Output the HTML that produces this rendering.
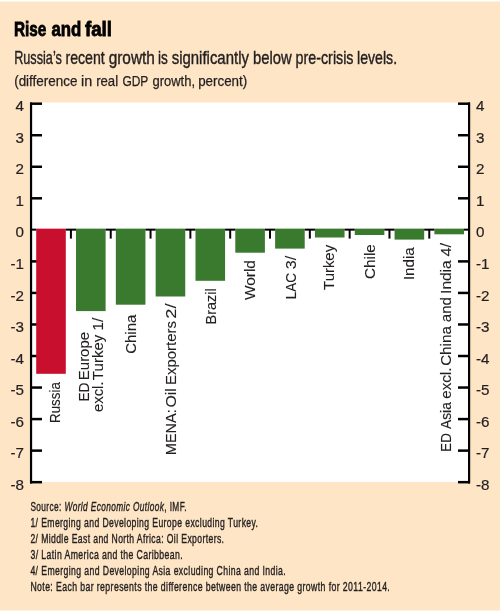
<!DOCTYPE html>
<html><head><meta charset="utf-8"><style>
html,body{margin:0;padding:0;width:500px;height:611px;overflow:hidden;background:#fde5c5;}
svg{display:block;will-change:transform;}
text{font-family:"Liberation Sans",sans-serif;}
</style></head><body>
<svg width="500" height="611" viewBox="0 0 500 611">
<rect x="0" y="0" width="500" height="611" fill="#fde5c5"/>
<rect x="0" y="0" width="500" height="1.5" fill="#fff"/>
<rect x="0" y="610" width="500" height="1" fill="#fff" fill-opacity="0.5"/>
<rect x="30" y="102.5" width="440" height="379.5" fill="#fff"/>
<g stroke="#000" stroke-width="2" fill="none">
<line x1="31.05" y1="102.44" x2="31.05" y2="483.42" stroke-width="2.2"/>
<line x1="469.1" y1="102.44" x2="469.1" y2="483.42" stroke-width="2.2"/>
<line x1="30" y1="482.17" x2="42" y2="482.17" stroke-width="2.5"/>
<line x1="458" y1="482.17" x2="470" y2="482.17" stroke-width="2.5"/>
<line x1="30" y1="450.63" x2="42" y2="450.63" stroke-width="2.5"/>
<line x1="458" y1="450.63" x2="470" y2="450.63" stroke-width="2.5"/>
<line x1="30" y1="419.09" x2="42" y2="419.09" stroke-width="2.5"/>
<line x1="458" y1="419.09" x2="470" y2="419.09" stroke-width="2.5"/>
<line x1="30" y1="387.55" x2="42" y2="387.55" stroke-width="2.5"/>
<line x1="458" y1="387.55" x2="470" y2="387.55" stroke-width="2.5"/>
<line x1="30" y1="356.01" x2="42" y2="356.01" stroke-width="2.5"/>
<line x1="458" y1="356.01" x2="470" y2="356.01" stroke-width="2.5"/>
<line x1="30" y1="324.47" x2="42" y2="324.47" stroke-width="2.5"/>
<line x1="458" y1="324.47" x2="470" y2="324.47" stroke-width="2.5"/>
<line x1="30" y1="292.93" x2="42" y2="292.93" stroke-width="2.5"/>
<line x1="458" y1="292.93" x2="470" y2="292.93" stroke-width="2.5"/>
<line x1="30" y1="261.39" x2="42" y2="261.39" stroke-width="2.5"/>
<line x1="458" y1="261.39" x2="470" y2="261.39" stroke-width="2.5"/>
<line x1="30" y1="198.31" x2="42" y2="198.31" stroke-width="2.5"/>
<line x1="458" y1="198.31" x2="470" y2="198.31" stroke-width="2.5"/>
<line x1="30" y1="166.77" x2="42" y2="166.77" stroke-width="2.5"/>
<line x1="458" y1="166.77" x2="470" y2="166.77" stroke-width="2.5"/>
<line x1="30" y1="135.23" x2="42" y2="135.23" stroke-width="2.5"/>
<line x1="458" y1="135.23" x2="470" y2="135.23" stroke-width="2.5"/>
<line x1="30" y1="103.69" x2="42" y2="103.69" stroke-width="2.5"/>
<line x1="458" y1="103.69" x2="470" y2="103.69" stroke-width="2.5"/>
</g>
<rect x="36.20" y="228.65" width="29.6" height="145.15" fill="#c8102e"/>
<rect x="76.02" y="228.65" width="29.6" height="82.45" fill="#3a7a2e"/>
<rect x="115.84" y="228.65" width="29.6" height="76.05" fill="#3a7a2e"/>
<rect x="155.66" y="228.65" width="29.6" height="67.85" fill="#3a7a2e"/>
<rect x="195.48" y="228.65" width="29.6" height="52.15" fill="#3a7a2e"/>
<rect x="235.30" y="228.65" width="29.6" height="24.05" fill="#3a7a2e"/>
<rect x="275.12" y="228.65" width="29.6" height="19.95" fill="#3a7a2e"/>
<rect x="314.94" y="228.65" width="29.6" height="8.85" fill="#3a7a2e"/>
<rect x="354.76" y="228.65" width="29.6" height="6.35" fill="#3a7a2e"/>
<rect x="394.58" y="228.65" width="29.6" height="10.95" fill="#3a7a2e"/>
<rect x="434.40" y="228.65" width="29.6" height="5.65" fill="#3a7a2e"/>
<g stroke="#000" stroke-width="2" fill="none">
<line x1="31.00" y1="229.65" x2="36.20" y2="229.65"/>
<line x1="65.80" y1="229.65" x2="76.02" y2="229.65"/>
<line x1="105.62" y1="229.65" x2="115.84" y2="229.65"/>
<line x1="145.44" y1="229.65" x2="155.66" y2="229.65"/>
<line x1="185.26" y1="229.65" x2="195.48" y2="229.65"/>
<line x1="225.08" y1="229.65" x2="235.30" y2="229.65"/>
<line x1="264.90" y1="229.65" x2="275.12" y2="229.65"/>
<line x1="304.72" y1="229.65" x2="314.94" y2="229.65"/>
<line x1="344.54" y1="229.65" x2="354.76" y2="229.65"/>
<line x1="384.36" y1="229.65" x2="394.58" y2="229.65"/>
<line x1="424.18" y1="229.65" x2="434.40" y2="229.65"/>
<line x1="464.00" y1="229.65" x2="469" y2="229.65"/>
<line x1="70.91" y1="229.65" x2="70.91" y2="238.6"/>
<line x1="110.73" y1="229.65" x2="110.73" y2="238.6"/>
<line x1="150.55" y1="229.65" x2="150.55" y2="238.6"/>
<line x1="190.37" y1="229.65" x2="190.37" y2="238.6"/>
<line x1="230.19" y1="229.65" x2="230.19" y2="238.6"/>
<line x1="270.01" y1="229.65" x2="270.01" y2="238.6"/>
<line x1="309.83" y1="229.65" x2="309.83" y2="238.6"/>
<line x1="349.65" y1="229.65" x2="349.65" y2="238.6"/>
<line x1="389.47" y1="229.65" x2="389.47" y2="238.6"/>
<line x1="429.29" y1="229.65" x2="429.29" y2="238.6"/>
</g>
<g font-family="Liberation Sans" font-size="15.2" fill="#231f20" stroke="#231f20" stroke-width="0.2">
<text x="24" y="489.77" text-anchor="end">-8</text>
<text x="476" y="489.77">-8</text>
<text x="24" y="458.23" text-anchor="end">-7</text>
<text x="476" y="458.23">-7</text>
<text x="24" y="426.69" text-anchor="end">-6</text>
<text x="476" y="426.69">-6</text>
<text x="24" y="395.15" text-anchor="end">-5</text>
<text x="476" y="395.15">-5</text>
<text x="24" y="363.61" text-anchor="end">-4</text>
<text x="476" y="363.61">-4</text>
<text x="24" y="332.07" text-anchor="end">-3</text>
<text x="476" y="332.07">-3</text>
<text x="24" y="300.53" text-anchor="end">-2</text>
<text x="476" y="300.53">-2</text>
<text x="24" y="268.99" text-anchor="end">-1</text>
<text x="476" y="268.99">-1</text>
<text x="24" y="237.45" text-anchor="end">0</text>
<text x="476" y="237.45">0</text>
<text x="24" y="205.91" text-anchor="end">1</text>
<text x="476" y="205.91">1</text>
<text x="24" y="174.37" text-anchor="end">2</text>
<text x="476" y="174.37">2</text>
<text x="24" y="142.83" text-anchor="end">3</text>
<text x="476" y="142.83">3</text>
<text x="24" y="111.29" text-anchor="end">4</text>
<text x="476" y="111.29">4</text>
</g>
<g font-family="Liberation Sans" font-size="15.5" fill="#231f20" stroke="#231f20" stroke-width="0.12">
<text transform="translate(59.60,422.89) rotate(-90)" textLength="40.69" lengthAdjust="spacingAndGlyphs">Russia</text>
<text transform="translate(89.20,401.19) rotate(-90)" textLength="18.42" lengthAdjust="spacingAndGlyphs">ED</text>
<text transform="translate(89.20,380.13) rotate(-90)" textLength="48.19" lengthAdjust="spacingAndGlyphs">Europe</text>
<text transform="translate(103.20,412.03) rotate(-90)" textLength="30.59" lengthAdjust="spacingAndGlyphs">excl.</text>
<text transform="translate(103.20,380.13) rotate(-90)" textLength="45.46" lengthAdjust="spacingAndGlyphs">Turkey</text>
<text transform="translate(103.20,330.80) rotate(-90)" textLength="13.10" lengthAdjust="spacingAndGlyphs">1/</text>
<text transform="translate(135.80,353.76) rotate(-90)" textLength="39.06" lengthAdjust="spacingAndGlyphs">China</text>
<text transform="translate(176.00,455.19) rotate(-90)" textLength="45.91" lengthAdjust="spacingAndGlyphs">MENA:</text>
<text transform="translate(176.00,407.55) rotate(-90)" textLength="19.42" lengthAdjust="spacingAndGlyphs">Oil</text>
<text transform="translate(176.00,385.03) rotate(-90)" textLength="63.97" lengthAdjust="spacingAndGlyphs">Exporters</text>
<text transform="translate(176.00,318.82) rotate(-90)" textLength="15.32" lengthAdjust="spacingAndGlyphs">2/</text>
<text transform="translate(215.80,324.38) rotate(-90)" textLength="36.05" lengthAdjust="spacingAndGlyphs">Brazil</text>
<text transform="translate(254.70,300.07) rotate(-90)" textLength="39.95" lengthAdjust="spacingAndGlyphs">World</text>
<text transform="translate(296.40,299.21) rotate(-90)" textLength="26.22" lengthAdjust="spacingAndGlyphs">LAC</text>
<text transform="translate(296.40,269.31) rotate(-90)" textLength="13.41" lengthAdjust="spacingAndGlyphs">3/</text>
<text transform="translate(333.50,289.93) rotate(-90)" textLength="45.06" lengthAdjust="spacingAndGlyphs">Turkey</text>
<text transform="translate(374.70,278.97) rotate(-90)" textLength="34.75" lengthAdjust="spacingAndGlyphs">Chile</text>
<text transform="translate(414.30,280.10) rotate(-90)" textLength="32.90" lengthAdjust="spacingAndGlyphs">India</text>
<text transform="translate(451.20,451.69) rotate(-90)" textLength="18.53" lengthAdjust="spacingAndGlyphs">ED</text>
<text transform="translate(451.20,428.93) rotate(-90)" textLength="26.73" lengthAdjust="spacingAndGlyphs">Asia</text>
<text transform="translate(451.20,398.74) rotate(-90)" textLength="31.13" lengthAdjust="spacingAndGlyphs">excl.</text>
<text transform="translate(451.20,365.87) rotate(-90)" textLength="39.77" lengthAdjust="spacingAndGlyphs">China</text>
<text transform="translate(451.20,322.14) rotate(-90)" textLength="25.00" lengthAdjust="spacingAndGlyphs">and</text>
<text transform="translate(451.20,293.93) rotate(-90)" textLength="33.63" lengthAdjust="spacingAndGlyphs">India</text>
<text transform="translate(451.20,256.57) rotate(-90)" textLength="13.57" lengthAdjust="spacingAndGlyphs">4/</text>
</g>
<text x="13.97" y="35.8" font-family="Liberation Sans" font-weight="bold" font-size="21" fill="#000" stroke="#000" stroke-width="0.8" textLength="32.45" lengthAdjust="spacingAndGlyphs">Rise</text>
<text x="51.41" y="35.8" font-family="Liberation Sans" font-weight="bold" font-size="21" fill="#000" stroke="#000" stroke-width="0.8" textLength="29.90" lengthAdjust="spacingAndGlyphs">and</text>
<text x="84.88" y="35.8" font-family="Liberation Sans" font-weight="bold" font-size="21" fill="#000" stroke="#000" stroke-width="0.8" textLength="27.15" lengthAdjust="spacingAndGlyphs">fall</text>
<text x="14.16" y="63.6" font-family="Liberation Sans" font-size="18.4" fill="#231f20" stroke="#231f20" stroke-width="0.4" textLength="47.69" lengthAdjust="spacingAndGlyphs">Russia’s</text>
<text x="65.46" y="63.6" font-family="Liberation Sans" font-size="18.4" fill="#231f20" stroke="#231f20" stroke-width="0.4" textLength="39.34" lengthAdjust="spacingAndGlyphs">recent</text>
<text x="108.65" y="63.6" font-family="Liberation Sans" font-size="18.4" fill="#231f20" stroke="#231f20" stroke-width="0.4" textLength="46.25" lengthAdjust="spacingAndGlyphs">growth</text>
<text x="157.99" y="63.6" font-family="Liberation Sans" font-size="18.4" fill="#231f20" stroke="#231f20" stroke-width="0.4" textLength="9.80" lengthAdjust="spacingAndGlyphs">is</text>
<text x="171.68" y="63.6" font-family="Liberation Sans" font-size="18.4" fill="#231f20" stroke="#231f20" stroke-width="0.4" textLength="77.25" lengthAdjust="spacingAndGlyphs">significantly</text>
<text x="252.94" y="63.6" font-family="Liberation Sans" font-size="18.4" fill="#231f20" stroke="#231f20" stroke-width="0.4" textLength="38.72" lengthAdjust="spacingAndGlyphs">below</text>
<text x="295.58" y="63.6" font-family="Liberation Sans" font-size="18.4" fill="#231f20" stroke="#231f20" stroke-width="0.4" textLength="57.94" lengthAdjust="spacingAndGlyphs">pre-crisis</text>
<text x="357.05" y="63.6" font-family="Liberation Sans" font-size="18.4" fill="#231f20" stroke="#231f20" stroke-width="0.4" textLength="40.04" lengthAdjust="spacingAndGlyphs">levels.</text>
<text x="14.17" y="86.2" font-family="Liberation Sans" font-size="14" fill="#231f20" stroke="#231f20" stroke-width="0.25" textLength="63.33" lengthAdjust="spacingAndGlyphs">(difference</text>
<text x="81.04" y="86.2" font-family="Liberation Sans" font-size="14" fill="#231f20" stroke="#231f20" stroke-width="0.25" textLength="11.20" lengthAdjust="spacingAndGlyphs">in</text>
<text x="96.13" y="86.2" font-family="Liberation Sans" font-size="14" fill="#231f20" stroke="#231f20" stroke-width="0.25" textLength="21.96" lengthAdjust="spacingAndGlyphs">real</text>
<text x="122.40" y="86.2" font-family="Liberation Sans" font-size="14" fill="#231f20" stroke="#231f20" stroke-width="0.25" textLength="25.93" lengthAdjust="spacingAndGlyphs">GDP</text>
<text x="152.45" y="86.2" font-family="Liberation Sans" font-size="14" fill="#231f20" stroke="#231f20" stroke-width="0.25" textLength="42.61" lengthAdjust="spacingAndGlyphs">growth,</text>
<text x="198.14" y="86.2" font-family="Liberation Sans" font-size="14" fill="#231f20" stroke="#231f20" stroke-width="0.25" textLength="49.09" lengthAdjust="spacingAndGlyphs">percent)</text>
<g font-family="Liberation Sans" font-size="13" fill="#231f20" stroke="#231f20" stroke-width="0.4" letter-spacing="0.6">
<text x="30.4" y="511" textLength="156.5" lengthAdjust="spacingAndGlyphs">Source: <tspan font-style="italic">World Economic Outlook</tspan>, IMF.</text>
<text x="30.4" y="527.4" textLength="228.0" lengthAdjust="spacingAndGlyphs">1/ Emerging and Developing Europe excluding Turkey.</text>
<text x="30.4" y="543.4" textLength="194.0" lengthAdjust="spacingAndGlyphs">2/ Middle East and North Africa: Oil Exporters.</text>
<text x="30.4" y="559.4" textLength="152.7" lengthAdjust="spacingAndGlyphs">3/ Latin America and the Caribbean.</text>
<text x="30.4" y="575.4" textLength="255.7" lengthAdjust="spacingAndGlyphs">4/ Emerging and Developing Asia excluding China and India.</text>
<text x="30.4" y="591.4" textLength="359.8" lengthAdjust="spacingAndGlyphs">Note: Each bar represents the difference between the average growth for 2011-2014.</text>
</g>
</svg>
</body></html>
